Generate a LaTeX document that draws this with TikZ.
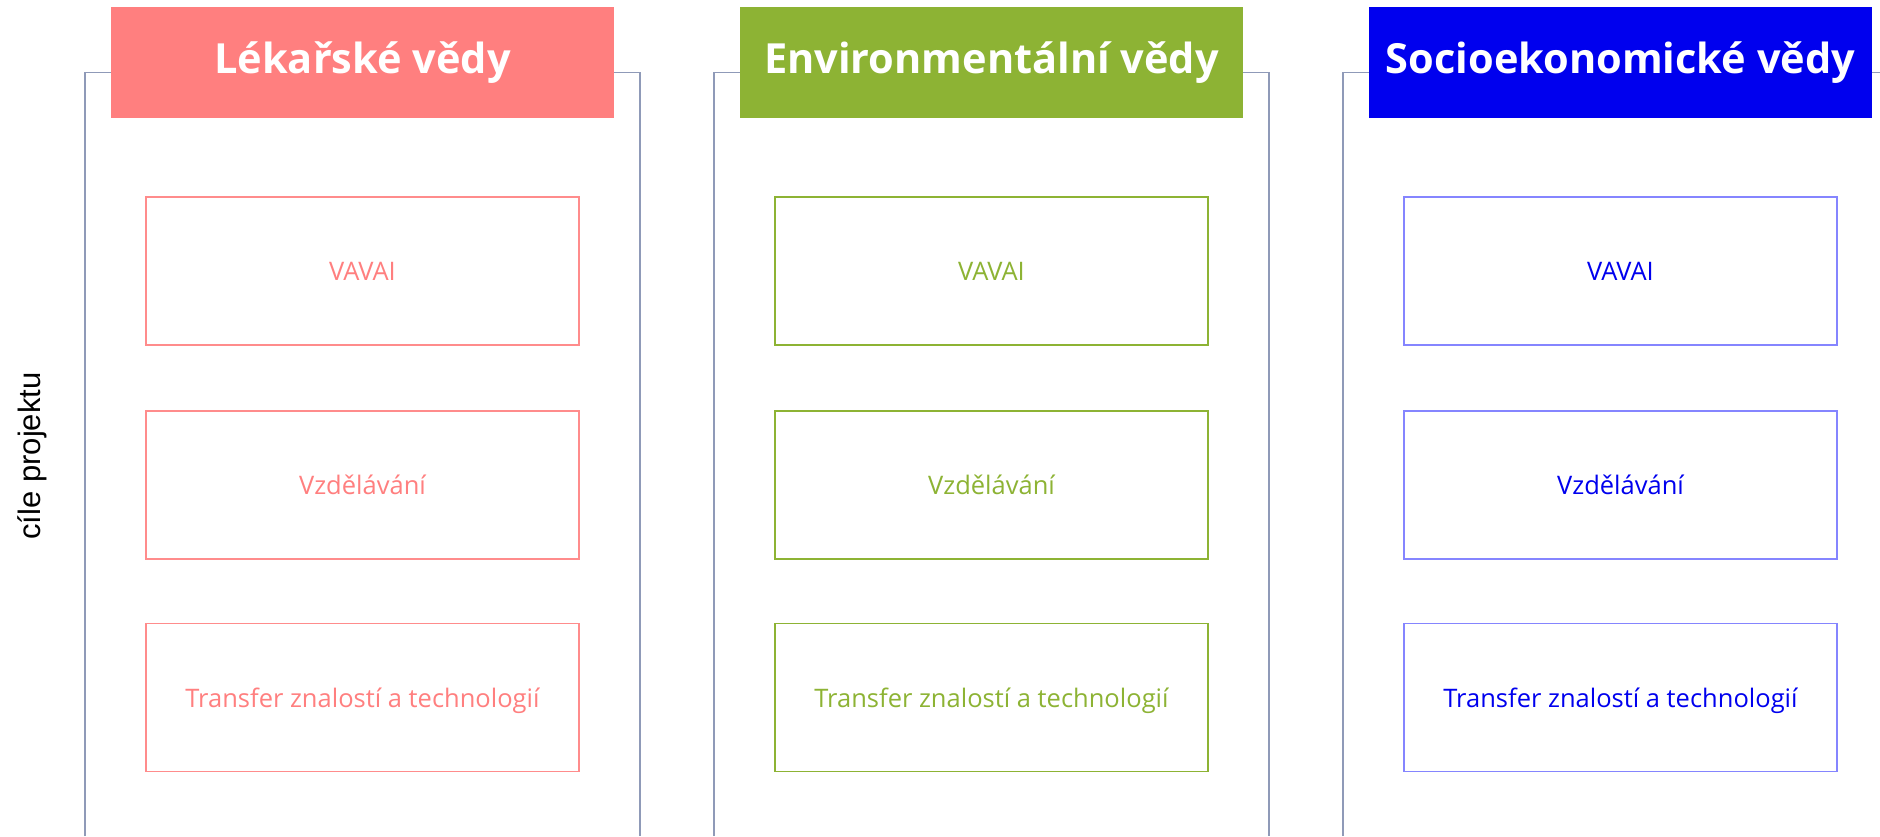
\documentclass[tikz,border=0pt]{standalone}
\usepackage{fontspec}
\setmainfont{Open Sans}
\newfontfamily\labelfont{Liberation Sans}
\definecolor{cRed}{HTML}{FF7F7F}
\definecolor{cRedLine}{HTML}{FF8C8C}
\definecolor{cGreen}{HTML}{8DB334}
\definecolor{cBlue}{HTML}{0000EE}
\definecolor{cBlueLine}{HTML}{8585FF}
\definecolor{frameCol}{HTML}{8F9AB8}
\tikzset{
  panelframe/.style={draw=frameCol, line width=1.5pt},
  header/.style={minimum width=503pt, minimum height=111pt, inner sep=0pt,
    text=white, font=\fontsize{41.5}{50}\selectfont\bfseries},
  goalbox/.style={minimum width=433pt, minimum height=148pt, inner sep=0pt,
    text depth=0pt, line width=1.8pt, fill=white, font=\fontsize{25.5}{30}\selectfont},
}
\begin{document}
\begin{tikzpicture}[x=1pt,y=-1pt]
\useasboundingbox (0,0) rectangle (1880,836);
\clip (0,0) rectangle (1880,836);
% side label
\node[rotate=90, font=\labelfont\fontsize{31}{36}\selectfont] (lbl) at (32,456) {cíle projektu};
% panels
\foreach \px/\name/\hcol/\lcol/\tcol/\title in {
   85/lek/cRed/cRedLine/cRed/{Lékařské vědy},
   714/env/cGreen/cGreen/cGreen/{Environmentální vědy},
   1343/soc/cBlue/cBlueLine/cBlue/{Socioekonomické vědy}}{
  \draw[panelframe] (\px,836) -- (\px,72.7) -- (\px+555,72.7) -- (\px+555,836);
  \node[header, fill=\hcol] (\name-head) at (\px+277.5,62.8) {\title};
  \node[goalbox, draw=\lcol, text=\tcol] (\name-vavai) at (\px+277.5,271) {VAVAI};
  \node[goalbox, draw=\lcol, text=\tcol] (\name-vzdel) at (\px+277.5,485) {Vzdělávání};
  \node[goalbox, draw=\lcol, text=\tcol] (\name-trans) at (\px+277.5,697.5) {Transfer znalostí a technologií};
}
\end{tikzpicture}
\end{document}
